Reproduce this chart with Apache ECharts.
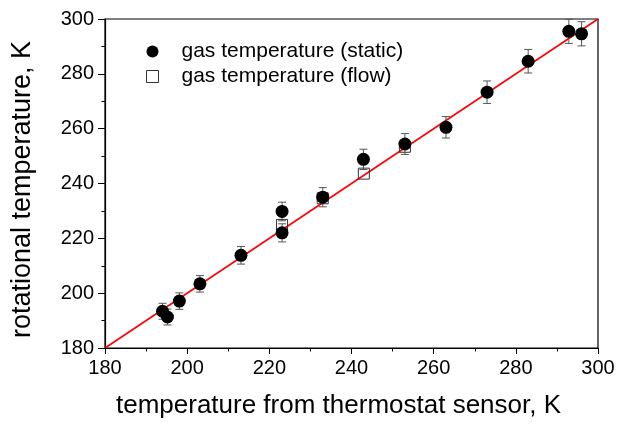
<!DOCTYPE html>
<html><head><meta charset="utf-8">
<script src="https://cdn.jsdelivr.net/npm/echarts@6/dist/echarts.min.js"></script>
<style>html,body{margin:0;padding:0;background:#fff}#c{width:619px;height:424px}</style>
</head><body><div id="c"></div>
<script>
const staticX = [194, 195.2, 198.1, 203.1, 213.1, 223.1, 223.1, 233, 242.9, 253, 263, 273, 283, 292.9, 296];
const staticY = [193.4, 191.3, 197.1, 203.4, 213.8, 229.8, 222.0, 235.0, 248.8, 254.4, 260.5, 273.3, 284.6, 295.5, 294.6];
const staticErr = [2.9, 2.9, 3.0, 3.0, 3.2, 3.4, 3.3, 3.5, 3.7, 3.8, 3.9, 4.1, 4.3, 4.4, 4.4];
const flowX = [223.1, 233, 243, 253];
const flowY = [224.9, 234.6, 243.6, 253.4];
const lineX = [180, 300];
const lineY = [180, 300];
const xTicks = [180, 200, 220, 240, 260, 280, 300];

const font = "Arial, 'Liberation Sans', sans-serif";
const chart = echarts.init(document.getElementById('c'));
const errData = staticX.map((x, i) => [x, staticY[i] - staticErr[i], staticY[i] + staticErr[i]]);
chart.setOption({
  animation: false,
  grid: {left: 105, right: 21, top: 19, bottom: 72, show: true, borderColor: '#000', borderWidth: 1.2},
  legend: {
    left: 141, top: 36, orient: 'vertical', itemGap: 4, itemWidth: 12, itemHeight: 12,
    textStyle: {fontFamily: font, fontSize: 21, color: '#000', padding: [0, 0, 0, 18]},
    data: [
      {name: 'gas temperature (static)', icon: 'circle', itemStyle: {color: '#000', opacity: 1}},
      {name: 'gas temperature (flow)', icon: 'rect', itemStyle: {color: '#fff', borderColor: '#333', borderWidth: 1}}
    ]
  },
  xAxis: {
    type: 'value', min: 180, max: 300, interval: 20,
    name: 'temperature from thermostat sensor, K', nameLocation: 'middle', nameGap: 45,
    nameTextStyle: {fontFamily: font, fontSize: 26, color: '#000', padding: [0, 26, 0, 0]},
    axisLine: {lineStyle: {color: '#000', width: 1.2}},
    axisTick: {inside: false, length: 6, lineStyle: {color: '#000'}},
    minorTick: {show: true, splitNumber: 2, length: 3.5, lineStyle: {color: '#000'}},
    splitLine: {show: false},
    axisLabel: {fontFamily: font, fontSize: 20, color: '#000', margin: 10,
      formatter: v => xTicks.includes(v) ? String(v) : ''}
  },
  yAxis: {
    type: 'value', min: 180, max: 300, interval: 20,
    name: 'rotational temperature, K', nameLocation: 'middle', nameGap: 69,
    nameTextStyle: {fontFamily: font, fontSize: 27, color: '#000', padding: [0, 12, 0, 0]},
    axisLine: {lineStyle: {color: '#000', width: 1.2}},
    axisTick: {inside: false, length: 7, lineStyle: {color: '#000'}},
    minorTick: {show: true, splitNumber: 2, length: 3.5, lineStyle: {color: '#000'}},
    splitLine: {show: false},
    axisLabel: {fontFamily: font, fontSize: 20, color: '#000', margin: 11}
  },
  series: [
    {type: 'line', data: lineX.map((x, i) => [x, lineY[i]]), symbol: 'none',
     lineStyle: {color: '#ff0000', width: 1.6}, z: 1, silent: true},
    {type: 'custom', z: 2, data: errData, silent: true,
     renderItem: function (params, api) {
       const x = api.value(0);
       const lo = api.coord([x, api.value(1)]);
       const hi = api.coord([x, api.value(2)]);
       const w = 4;
       const st = {stroke: '#555', lineWidth: 1};
       return {type: 'group', children: [
         {type: 'line', shape: {x1: lo[0], y1: lo[1], x2: hi[0], y2: hi[1]}, style: st},
         {type: 'line', shape: {x1: lo[0] - w, y1: lo[1], x2: lo[0] + w, y2: lo[1]}, style: st},
         {type: 'line', shape: {x1: hi[0] - w, y1: hi[1], x2: hi[0] + w, y2: hi[1]}, style: st}
       ]};
     }},
    {name: 'gas temperature (flow)', type: 'scatter', z: 3,
     data: flowX.map((x, i) => [x, flowY[i]]), symbol: 'rect', symbolSize: 11,
     itemStyle: {color: 'rgba(255,255,255,0)', borderColor: '#333', borderWidth: 1, opacity: 1}},
    {name: 'gas temperature (static)', type: 'scatter', z: 4,
     data: staticX.map((x, i) => [x, staticY[i]]), symbol: 'circle', symbolSize: 13,
     itemStyle: {color: '#000', opacity: 1}}
  ]
});
</script></body></html>
